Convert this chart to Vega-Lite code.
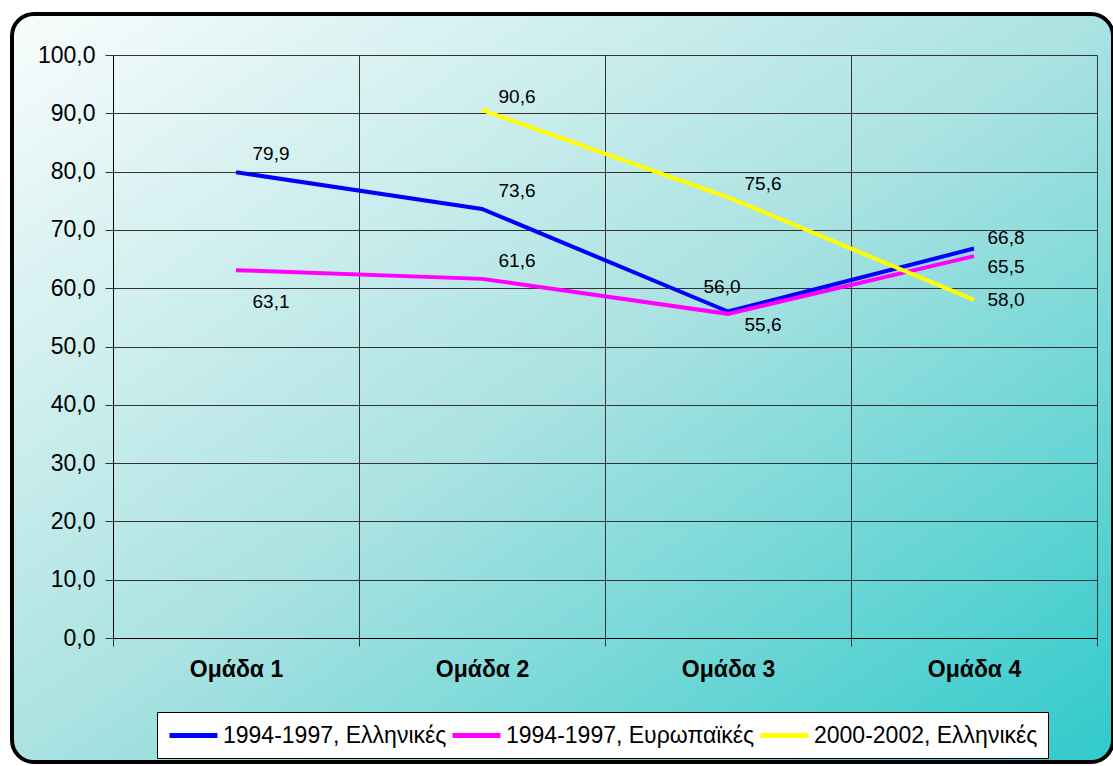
{
  "$schema": "https://vega.github.io/schema/vega-lite/v6.json",
  "width": 1101,
  "height": 748,
  "autosize": {"type": "none"},
  "padding": {"left": 12, "top": 14, "right": 0, "bottom": 4},
  "background": "white",
  "config": {
    "locale": {"number": {"decimal": ",", "thousands": ".", "grouping": [3], "currency": ["", " €"]}},
    "font": "Liberation Sans",
    "view": {
      "fill": {"gradient": "linear", "x1": 0, "y1": 0, "x2": 1, "y2": 1,
        "stops": [{"offset": 0, "color": "#f8fcfc"}, {"offset": 0.5, "color": "#abe2e2"}, {"offset": 1, "color": "#30caca"}]},
      "stroke": "black",
      "strokeWidth": 4,
      "cornerRadius": 22
    }
  },
  "data": {"values": [
    {"group": "Ομάδα 1", "series": "1994-1997, Ελληνικές", "value": 79.9},
    {"group": "Ομάδα 2", "series": "1994-1997, Ελληνικές", "value": 73.6},
    {"group": "Ομάδα 3", "series": "1994-1997, Ελληνικές", "value": 56.0},
    {"group": "Ομάδα 4", "series": "1994-1997, Ελληνικές", "value": 66.8},
    {"group": "Ομάδα 1", "series": "1994-1997, Ευρωπαϊκές", "value": 63.1},
    {"group": "Ομάδα 2", "series": "1994-1997, Ευρωπαϊκές", "value": 61.6},
    {"group": "Ομάδα 3", "series": "1994-1997, Ευρωπαϊκές", "value": 55.6},
    {"group": "Ομάδα 4", "series": "1994-1997, Ευρωπαϊκές", "value": 65.5},
    {"group": "Ομάδα 2", "series": "2000-2002, Ελληνικές", "value": 90.6},
    {"group": "Ομάδα 3", "series": "2000-2002, Ελληνικές", "value": 75.6},
    {"group": "Ομάδα 4", "series": "2000-2002, Ελληνικές", "value": 58.0}
  ]},
  "encoding": {
    "y": {
      "field": "value", "type": "quantitative",
      "scale": {"domain": [0, 100], "range": [624, 41], "nice": false, "zero": true},
      "axis": {
        "title": null, "offset": -101, "values": [0, 10, 20, 30, 40, 50, 60, 70, 80, 90, 100],
        "format": ".1f", "grid": true, "gridColor": "#333333", "gridWidth": 1,
        "tickColor": "#333333", "tickSize": 8, "domainColor": "black",
        "labelFontSize": 23, "labelPadding": 10, "labelColor": "black"
      }
    }
  },
  "resolve": {"axis": {"x": "independent"}},
  "layer": [
    {
      "mark": {"type": "line", "strokeWidth": 4},
      "encoding": {
        "x": {
          "field": "group", "type": "nominal", "sort": ["Ομάδα 1", "Ομάδα 2", "Ομάδα 3", "Ομάδα 4"],
          "bandPosition": 0.5,
          "scale": {"type": "band", "range": [101, 1085], "paddingInner": 0, "paddingOuter": 0},
          "axis": {
            "title": null, "orient": "bottom", "offset": -124, "tickBand": "extent",
            "grid": false, "tickColor": "#333333", "tickSize": 8, "domainColor": "black", "domainWidth": 1,
            "labelFontSize": 23, "labelFontWeight": "bold", "labelColor": "black",
            "labelPadding": 12, "labelAngle": 0
          }
        },
        "color": {
          "field": "series", "type": "nominal",
          "scale": {"domain": ["1994-1997, Ελληνικές", "1994-1997, Ευρωπαϊκές", "2000-2002, Ελληνικές"], "range": ["#0000ff", "#ff00ff", "#ffff00"]},
          "legend": {
            "title": null, "orient": "none", "legendX": 145, "legendY": 698,
            "direction": "horizontal", "columns": 3, "gridAlign": "none",
            "symbolType": "M-1,0H3.36", "symbolSize": 484, "symbolStrokeWidth": 5,
            "labelFontSize": 23, "labelColor": "black", "labelLimit": 400,
            "columnPadding": -5, "labelOffset": 29, "padding": 10,
            "strokeColor": "black", "fillColor": "white"
          }
        }
      }
    },
    {
      "mark": {
        "type": "text", "fontSize": 19, "align": "center", "baseline": "middle", "color": "black",
        "dx": {"expr": "datum.series === '1994-1997, Ελληνικές' && datum.group === 'Ομάδα 3' ? -6 : datum.group === 'Ομάδα 4' ? 32 : 35"},
        "dy": {"expr": "datum.series === '1994-1997, Ελληνικές' ? (datum.group === 'Ομάδα 3' ? -25 : datum.group === 'Ομάδα 4' ? -11 : -18) : datum.series === '1994-1997, Ευρωπαϊκές' ? (datum.group === 'Ομάδα 1' ? 32 : datum.group === 'Ομάδα 2' ? -18 : 11) : (datum.group === 'Ομάδα 4' ? 0 : -13)"}
      },
      "encoding": {
        "x": {
          "field": "group", "type": "nominal", "sort": ["Ομάδα 1", "Ομάδα 2", "Ομάδα 3", "Ομάδα 4"],
          "bandPosition": 0.5,
          "scale": {"type": "band", "range": [101, 1085], "paddingInner": 0, "paddingOuter": 0},
          "axis": {
            "title": null, "orient": "top", "tickBand": "extent",
            "grid": true, "gridColor": "#333333", "gridWidth": 1,
            "labels": false, "ticks": false, "domain": false
          }
        },
        "text": {"field": "value", "type": "quantitative", "format": ".1f"}
      }
    }
  ]
}
